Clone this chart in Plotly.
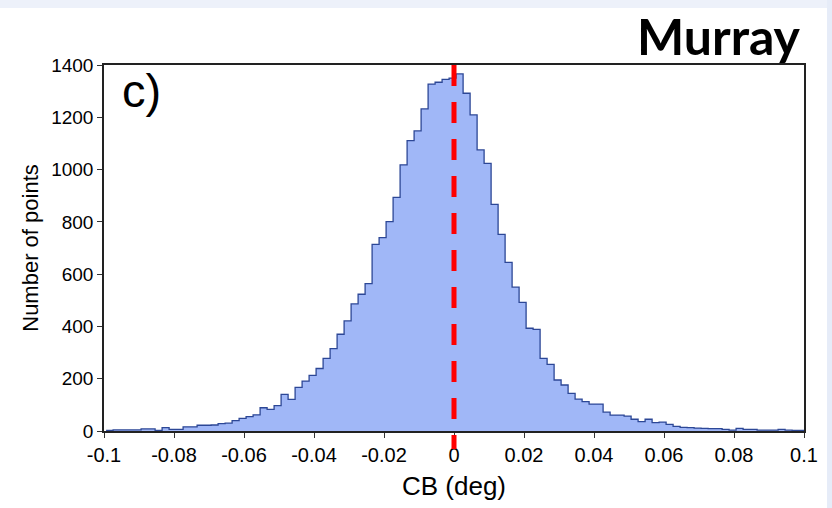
import plotly.graph_objects as go

# Histogram of CB (deg): 100 bins of width 0.002 deg
bin_start = -0.0994
bin_width = 0.002
counts = [
    2, 4, 4, 4, 4, 8, 8, 2, 13, 6,
    6, 16, 16, 22, 22, 23, 28, 30, 40, 48,
    55, 62, 89, 83, 97, 140, 121, 167, 191, 213,
    239, 278, 315, 370, 421, 486, 523, 564, 714, 740,
    801, 894, 1018, 1111, 1148, 1232, 1327, 1334, 1345, 1350,
    1366, 1292, 1209, 1075, 1024, 867, 752, 645, 550, 492,
    393, 389, 278, 255, 195, 176, 144, 122, 112, 103,
    103, 72, 61, 61, 57, 45, 36, 45, 32, 34,
    25, 18, 14, 13, 11, 10, 9, 9, 6, 3,
    10, 6, 6, 3, 3, 3, 6, 3, 2, 2,
]
x_ticks = [-0.1, -0.08, -0.06, -0.04, -0.02, 0, 0.02, 0.04, 0.06, 0.08, 0.1]
x_tick_text = ["-0.1", "-0.08", "-0.06", "-0.04", "-0.02", "0",
               "0.02", "0.04", "0.06", "0.08", "0.1"]
y_ticks = [0, 200, 400, 600, 800, 1000, 1200, 1400]
mean_value = 0

edges = [bin_start + i * bin_width for i in range(len(counts) + 1)]
step_y = counts + [counts[-1]]

W, H = 832, 508
L, R, T, B = 104, 28, 65, 77
pw, ph = W - L - R, H - T - B


def px_x(p):
    return (p - L) / pw


def px_y(p):
    return (H - B - p) / ph


fig = go.Figure()
fig.add_trace(go.Scatter(
    x=edges, y=step_y, mode="lines", line_shape="hv",
    line=dict(color="#2c4796", width=1.3),
    fill="tozeroy", fillcolor="#a0b7f7",
    hoverinfo="skip", showlegend=False,
))

narrow = "Liberation Sans Narrow, Arial Narrow, sans-serif"
shapes = [
    # mean marker
    dict(type="line", xref="x", yref="paper", x0=mean_value, x1=mean_value,
         y0=1.0, y1=px_y(449), line=dict(color="#ff0000", width=5, dash="21px,16px"),
         layer="above"),
    # light frame strips along the page edges
    dict(type="rect", xref="paper", yref="paper", x0=px_x(-5), x1=px_x(W + 5),
         y0=px_y(8), y1=px_y(-5), fillcolor="#edf1fa", line_width=0, layer="below"),
    dict(type="rect", xref="paper", yref="paper", x0=px_x(827), x1=px_x(W + 5),
         y0=px_y(H + 5), y1=px_y(-5), fillcolor="#e6ecf8", line_width=0, layer="below"),
]

fig.update_layout(
    width=W, height=H,
    margin=dict(l=L, r=R, t=T, b=B),
    paper_bgcolor="white", plot_bgcolor="white",
    shapes=shapes,
    annotations=[
        dict(text="c)", xref="paper", yref="paper", x=px_x(120), y=px_y(62),
             xanchor="left", yanchor="top", showarrow=False,
             font=dict(family=narrow, size=47, color="black")),
        dict(text="<b>Murray</b>", xref="paper", yref="paper", x=px_x(803), y=px_y(4),
             xanchor="right", yanchor="top", showarrow=False,
             font=dict(family="Lato, Open Sans, sans-serif", size=50, color="black")),
    ],
    xaxis=dict(
        range=[-0.1, 0.1], tickvals=x_ticks, ticktext=x_tick_text,
        ticks="outside", ticklen=5, tickwidth=1, tickcolor="#333",
        showline=True, linecolor="#222", linewidth=1.5, mirror=True,
        showgrid=False, zeroline=False,
        tickfont=dict(family=narrow, size=20, color="black"),
        title=dict(text="CB (deg)", standoff=12,
                   font=dict(family="Liberation Sans, Arial, sans-serif", size=26, color="black")),
    ),
    yaxis=dict(
        range=[0, 1400], tickvals=y_ticks,
        ticks="outside", ticklen=5, tickwidth=1, tickcolor="#333",
        showline=True, linecolor="#222", linewidth=1.5, mirror=True,
        showgrid=False, zeroline=False,
        tickfont=dict(family=narrow, size=19, color="black"),
        title=dict(text="Number of points", standoff=6,
                   font=dict(family=narrow, size=22, color="black")),
    ),
)

fig.write_html("out.html")
